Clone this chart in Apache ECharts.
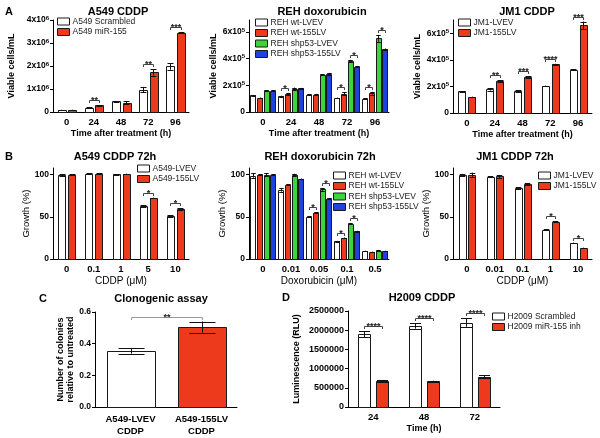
<!DOCTYPE html>
<html><head><meta charset="utf-8">
<script src="https://cdn.jsdelivr.net/npm/echarts@6/dist/echarts.min.js"></script>
<style>html,body{margin:0;padding:0;background:#fff}#c{width:600px;height:438px}</style>
</head><body><div id="c"></div>
<script>
// ---------- DATA ----------
const timeCats = ['0', '24', '48', '72', '96'];
const a549Scr = [90000, 180000, 460000, 970000, 1980000];
const a549ScrErr = [8000, 20000, 10000, 120000, 140000];
const a549Mir = [95000, 290000, 410000, 1720000, 3450000];
const a549MirErr = [8000, 15000, 60000, 140000, 30000];
const a549Ticks = [0, 1000000, 2000000, 3000000, 4000000];

const rehWtLVEV = [125000, 117000, 130000, 105000, 100000];
const rehWtLVEVErr = [3000, 5000, 4000, 3000, 3000];
const rehWt155 = [105000, 137000, 130000, 137000, 141000];
const rehWt155Err = [3000, 6000, 6000, 10000, 10000];
const rehShLVEV = [160000, 175000, 280000, 383000, 553000];
const rehShLVEVErr = [3000, 8000, 4000, 8000, 25000];
const rehSh155 = [160000, 177000, 287000, 338000, 472000];
const rehSh155Err = [3000, 4000, 6000, 4000, 4000];
const rehTicks = [0, 200000, 400000, 600000];

const jm1LVEV = [162000, 177000, 165000, 203000, 326000];
const jm1LVEVErr = [3000, 8000, 6000, 3000, 3000];
const jm1155 = [120000, 240000, 270000, 366000, 660000];
const jm1155Err = [3000, 5000, 5000, 5000, 28000];
const jm1Ticks = [0, 200000, 400000, 600000];

const doseA549 = ['0', '0.1', '1', '5', '10'];
const gA549LVEV = [99.5, 101, 100.5, 63, 51];
const gA549LVEVErr = [1, 0.5, 0.3, 0.8, 0.8];
const gA549155 = [100, 101, 101, 72.5, 59.5];
const gA549155Err = [0.3, 0.5, 0.3, 0.3, 0.8];

const doseREH = ['0', '0.01', '0.05', '0.1', '0.5'];
const gRehWtLVEV = [99, 82, 50, 21, 9.5];
const gRehWtLVEVErr = [2.5, 2, 0.5, 0.5, 0.3];
const gRehWt155 = [100, 88, 55, 25, 8.5];
const gRehWt155Err = [0.8, 0.5, 0.5, 0.5, 0.3];
const gRehShLVEV = [100, 100, 82.5, 42, 10];
const gRehShLVEVErr = [1.5, 1.2, 1.5, 0.5, 0.3];
const gRehSh155 = [100, 95, 71.5, 33, 9.5];
const gRehSh155Err = [0.8, 0.5, 0.5, 0.5, 0.3];

const doseJM1 = ['0', '0.01', '0.1', '1', '10'];
const gJm1LVEV = [100, 97.5, 84, 35, 19];
const gJm1LVEVErr = [1, 0.5, 1, 0.5, 0.5];
const gJm1155 = [100, 98, 88.5, 44, 13];
const gJm1155Err = [2.5, 1.5, 1.2, 0.6, 0.5];
const growthTicks = [0, 50, 100];

const clonoCats = ['A549-LVEV\nCDDP', 'A549-155LV\nCDDP'];
const clonoVals = [0.355, 0.505];
const clonoErr = [0.018, 0.035];
const clonoTicks = [0, 0.2, 0.4, 0.6];

const h2009Cats = ['24', '48', '72'];
const h2009Scr = [1900000, 2110000, 2200000];
const h2009ScrErr = [80000, 70000, 110000];
const h2009Inh = [680000, 670000, 790000];
const h2009InhErr = [20000, 15000, 45000];
const h2009Ticks = [0, 500000, 1000000, 1500000, 2000000, 2500000];

// significance: [catA, seriesA, catB, seriesB, label]
const sigA549 = [[1,0,1,1,'**'], [3,0,3,1,'**'], [4,0,4,1,'***']];
const sigREH = [[1,0,1,1,'*'], [3,0,3,1,'*'], [3,2,3,3,'*'], [4,0,4,1,'*'], [4,2,4,3,'*']];
const sigJM1 = [[1,0,1,1,'**'], [2,0,2,1,'***'], [3,0,3,1,'****'], [4,0,4,1,'***']];
const sigGA549 = [[3,0,3,1,'*'], [4,0,4,1,'*']];
const sigGREH = [[2,0,2,1,'*'], [2,2,2,3,'*'], [3,0,3,1,'*'], [3,2,3,3,'*']];
const sigGJM1 = [[3,0,3,1,'*'], [4,0,4,1,'*']];
const sigClono = [[0,0,1,0,'**']];
const sigH2009 = [[0,0,0,1,'****'], [1,0,1,1,'****'], [2,0,2,1,'****']];

// ---------- STYLE ----------
const FONT = '"Liberation Sans", Arial, sans-serif';
const WHITE = '#ffffff', RED = '#ee3a1c', GREEN = '#3dd43d', BLUE = '#1f42dc';

function supFmt(exp, scale) {
  return v => v === 0 ? '0' : '{b|' + Math.round(v / scale) + 'x10}{s|' + exp + '}';
}
const supRich = {
  b: {fontFamily: FONT, fontWeight: 'bold', fontSize: 8.5, color: '#000'},
  s: {fontFamily: FONT, fontWeight: 'bold', fontSize: 6, color: '#000', verticalAlign: 'top', padding: [0, 0, 4, 0]}
};

const panels = [
  {g: [53, 20, 136, 92], cats: timeCats, yMax: 4000000, yTicks: a549Ticks, yFmt: supFmt(6, 1e6), rich: true,
   yName: 'Viable cells/mL', yNameGap: 36, xName: 'Time after treatment (h)', xNameGap: 15,
   series: [{name: 'A549 Scrambled', v: a549Scr, e: a549ScrErr, c: WHITE}, {name: 'A549 miR-155', v: a549Mir, e: a549MirErr, c: RED}],
   L: {bw: 7.5, gap: 3, cap: 6}, sig: sigA549, legend: [57, 17]},
  {g: [249, 20, 140, 92], cats: timeCats, yMax: 690000, yTicks: rehTicks, yFmt: supFmt(5, 1e5), rich: true,
   yName: 'Viable cells/mL', yNameGap: 28, xName: 'Time after treatment (h)', xNameGap: 15,
   series: [{name: 'REH wt-LVEV', v: rehWtLVEV, e: rehWtLVEVErr, c: WHITE}, {name: 'REH wt-155LV', v: rehWt155, e: rehWt155Err, c: RED},
            {name: 'REH shp53-LVEV', v: rehShLVEV, e: rehShLVEVErr, c: GREEN}, {name: 'REH shp53-155LV', v: rehSh155, e: rehSh155Err, c: BLUE}],
   L: {bw: 5.3, gap: 1.4, cap: 4.5}, sig: sigREH, legend: [255, 18]},
  {g: [453, 20, 139, 93], cats: timeCats, yMax: 700000, yTicks: jm1Ticks, yFmt: supFmt(5, 1e5), rich: true,
   yName: 'Viable cells/mL', yNameGap: 30, xName: 'Time after treatment (h)', xNameGap: 14,
   series: [{name: 'JM1-LVEV', v: jm1LVEV, e: jm1LVEVErr, c: WHITE}, {name: 'JM1-155LV', v: jm1155, e: jm1155Err, c: RED}],
   L: {bw: 7, gap: 3, cap: 6}, sig: sigJM1, legend: [458, 18]},
  {g: [53, 168, 136, 91], cats: doseA549, yMax: 108, yTicks: growthTicks, yFmt: v => String(v),
   yName: 'Growth (%)', yNameGap: 22, xName: 'CDDP (\u03bcM)', xNameGap: 13, bName: false,
   series: [{name: 'A549-LVEV', v: gA549LVEV, e: gA549LVEVErr, c: WHITE}, {name: 'A549-155LV', v: gA549155, e: gA549155Err, c: RED}],
   L: {bw: 7, gap: 3, cap: 6}, sig: sigGA549, legend: [137, 164]},
  {g: [249, 168, 140, 91], cats: doseREH, yMax: 108, yTicks: growthTicks, yFmt: v => String(v),
   yName: 'Growth (%)', yNameGap: 20, xName: 'Doxorubicin (\u03bcM)', xNameGap: 13, bName: false,
   series: [{name: 'REH wt-LVEV', v: gRehWtLVEV, e: gRehWtLVEVErr, c: WHITE}, {name: 'REH wt-155LV', v: gRehWt155, e: gRehWt155Err, c: RED},
            {name: 'REH shp53-LVEV', v: gRehShLVEV, e: gRehShLVEVErr, c: GREEN}, {name: 'REH shp53-155LV', v: gRehSh155, e: gRehSh155Err, c: BLUE}],
   L: {bw: 5.3, gap: 1.4, cap: 4.5}, sig: sigGREH, legend: [333, 171]},
  {g: [453, 168, 139, 91], cats: doseJM1, yMax: 108, yTicks: growthTicks, yFmt: v => String(v),
   yName: 'Growth (%)', yNameGap: 19, xName: 'CDDP (\u03bcM)', xNameGap: 13, bName: false,
   series: [{name: 'JM1-LVEV', v: gJm1LVEV, e: gJm1LVEVErr, c: WHITE}, {name: 'JM1-155LV', v: gJm1155, e: gJm1155Err, c: RED}],
   L: {bw: 6.5, gap: 3, cap: 5.5}, sig: sigGJM1, legend: [538, 171]},
  {g: [95, 312, 142, 95], cats: clonoCats, yMax: 0.6, yTicks: clonoTicks, yFmt: v => v.toFixed(1),
   yName: 'Number of colonies\nrelative to untreated', yNameGap: 18, xName: '', xNameGap: 0, xMargin: 6,
   series: [{name: 'Clonogenic', v: clonoVals, e: clonoErr, c: WHITE, perCat: [WHITE, RED]}],
   L: {bw: 48, gap: 0, cap: 26}, sig: sigClono, sigColor: '#999', legend: null},
  {g: [348, 311, 152, 96], cats: h2009Cats, yMax: 2500000, yTicks: h2009Ticks, yFmt: v => String(v), yFont: 9,
   yName: 'Luminescence (RLU)', yNameGap: 46, xName: 'Time (h)', xNameGap: 14,
   series: [{name: 'H2009 Scrambled', v: h2009Scr, e: h2009ScrErr, c: WHITE}, {name: 'H2009 miR-155 inh', v: h2009Inh, e: h2009InhErr, c: RED}],
   L: {bw: 12, gap: 6, cap: 11}, sig: sigH2009, legend: [492, 312]}
];

// ---------- BUILD ----------
function barLeft(api, cat, si, n, L) {
  const c = api.coord([cat, 0]);
  const total = n * L.bw + (n - 1) * L.gap;
  return c[0] - total / 2 + si * (L.bw + L.gap);
}
function makeBarRender(L, si, n, colors) {
  return function (params, api) {
    const cat = api.value(0), v = api.value(1), e = api.value(2);
    const x0 = barLeft(api, cat, si, n, L);
    const yb = api.coord([cat, 0])[1], yt = api.coord([cat, v])[1];
    const yh = api.coord([cat, v + e])[1], yl = api.coord([cat, Math.max(0, v - e)])[1];
    const cx = Math.round(x0 + L.bw / 2) + 0.5, hw = L.cap / 2;
    const fill = colors[params.dataIndex] || colors[0];
    return {type: 'group', children: [
      {type: 'rect', shape: {x: Math.round(x0) + 0.5, y: Math.round(yt) + 0.5, width: Math.round(L.bw), height: Math.round(yb) - Math.round(yt)},
       style: {fill: fill, stroke: '#1a1a1a', lineWidth: 1}},
      {type: 'line', shape: {x1: cx, y1: yl, x2: cx, y2: yh}, style: {stroke: '#111', lineWidth: 1}},
      {type: 'line', shape: {x1: cx - hw, y1: Math.round(yh) + 0.5, x2: cx + hw, y2: Math.round(yh) + 0.5}, style: {stroke: '#111', lineWidth: 1}},
      {type: 'line', shape: {x1: cx - hw, y1: Math.round(yl) + 0.5, x2: cx + hw, y2: Math.round(yl) + 0.5}, style: {stroke: '#111', lineWidth: 1}}
    ]};
  };
}

const option = {animation: false, grid: [], xAxis: [], yAxis: [], series: [], legend: [], graphic: []};

panels.forEach((p, pi) => {
  option.grid.push({left: p.g[0], top: p.g[1], width: p.g[2], height: p.g[3]});
  const boldName = p.bName !== false;
  option.xAxis.push({
    type: 'category', gridIndex: pi, data: p.cats,
    axisLine: {lineStyle: {color: '#000', width: 1}},
    axisTick: {alignWithLabel: true, length: 3, lineStyle: {color: '#000'}},
    axisLabel: {color: '#000', fontFamily: FONT, fontWeight: 'bold', fontSize: 9.5, margin: p.xMargin || 4, interval: 0, lineHeight: 12},
    name: p.xName, nameLocation: 'middle', nameGap: p.xNameGap,
    nameTextStyle: {color: '#000', fontFamily: FONT, fontWeight: boldName ? 'bold' : 'normal', fontSize: boldName ? 9 : 10}
  });
  option.yAxis.push({
    type: 'value', gridIndex: pi, min: 0, max: p.yMax,
    axisLine: {show: true, lineStyle: {color: '#000', width: 1}},
    axisTick: {show: true, length: 3, customValues: p.yTicks, lineStyle: {color: '#000'}},
    axisLabel: {customValues: p.yTicks, formatter: p.yFmt, color: '#000', fontFamily: FONT, fontWeight: 'bold',
                fontSize: p.yFont || 8.5, margin: 4, rich: p.rich ? supRich : undefined},
    splitLine: {show: false},
    name: p.yName, nameLocation: 'middle', nameGap: p.yNameGap, nameRotate: 90,
    nameTextStyle: {color: '#000', fontFamily: FONT, fontWeight: boldName ? 'bold' : 'normal', fontSize: boldName ? 9 : 9.5, lineHeight: 10}
  });
  const n = p.series.length;
  p.series.forEach((s, si) => {
    option.series.push({
      type: 'custom', name: s.name, xAxisIndex: pi, yAxisIndex: pi, z: 2,
      itemStyle: {color: s.c, borderColor: '#1a1a1a', borderWidth: 1},
      data: p.cats.map((c, ci) => [ci, s.v[ci], s.e[ci]]),
      encode: {x: 0, y: 1},
      renderItem: makeBarRender(p.L, n === 1 ? 0 : si, n, s.perCat || [s.c])
    });
  });
  const sigColor = p.sigColor || '#444';
  option.series.push({
    type: 'custom', xAxisIndex: pi, yAxisIndex: pi, z: 5, silent: true,
    data: p.sig.map(s => {
      const a = p.series[s[1]], b = p.series[s[3]];
      const top = Math.max(a.v[s[0]] + a.e[s[0]], b.v[s[2]] + b.e[s[2]]);
      return [s[0], s[1], s[2], s[3], top];
    }),
    encode: {x: 0, y: 4},
    renderItem: function (params, api) {
      const ca = api.value(0), sa = api.value(1), cb = api.value(2), sb = api.value(3), top = api.value(4);
      const xa = Math.round(barLeft(api, ca, n === 1 ? 0 : sa, n, p.L) + p.L.bw / 2) + 0.5;
      const xb = Math.round(barLeft(api, cb, n === 1 ? 0 : sb, n, p.L) + p.L.bw / 2) + 0.5;
      const y = Math.round(api.coord([ca, top])[1] - 5) + 0.5;
      const lab = p.sig[params.dataIndex][4];
      return {type: 'group', children: [
        {type: 'polyline', shape: {points: [[xa, y + 2.5], [xa, y], [xb, y], [xb, y + 2.5]]}, style: {stroke: sigColor, lineWidth: 1, fill: null}},
        {type: 'text', x: (xa + xb) / 2, y: y + 5, style: {text: lab, fill: '#222', font: 'bold 9px ' + FONT, align: 'center', verticalAlign: 'bottom'}}
      ]};
    }
  });
  if (p.legend) {
    option.legend.push({
      left: p.legend[0], top: p.legend[1], orient: 'vertical', icon: 'rect',
      itemWidth: 12, itemHeight: 7, itemGap: 1.5, padding: 0, selectedMode: false,
      data: p.series.map(s => s.name),
      itemStyle: {borderColor: '#1a1a1a', borderWidth: 1},
      textStyle: {fontFamily: FONT, fontSize: 8.5, color: '#222', padding: [0, 0, 0, -2]}
    });
  }
});

// titles and panel letters
const texts = [
  ['A', 5, 12, 11], ['A549 CDDP', 118, 12, 11], ['REH doxorubicin', 322, 12, 11], ['JM1 CDDP', 527, 12, 11],
  ['B', 5, 157, 11], ['A549 CDDP 72h', 115, 157, 11], ['REH doxorubicin 72h', 320, 157, 11], ['JM1 CDDP 72h', 515, 157, 11],
  ['C', 39, 299, 11], ['Clonogenic assay', 161, 299, 11], ['D', 282, 298, 11], ['H2009 CDDP', 422, 298, 11]
];
texts.forEach(t => {
  const isLetter = t[0].length === 1;
  option.graphic.push({type: 'text', x: t[1], y: t[2],
    style: {text: t[0], fill: '#000', font: 'bold ' + t[3] + 'px ' + FONT, align: isLetter ? 'left' : 'center', verticalAlign: 'middle'}});
});

const chart = echarts.init(document.getElementById('c'), null, {renderer: 'canvas'});
chart.setOption(option);
</script>
</body></html>
